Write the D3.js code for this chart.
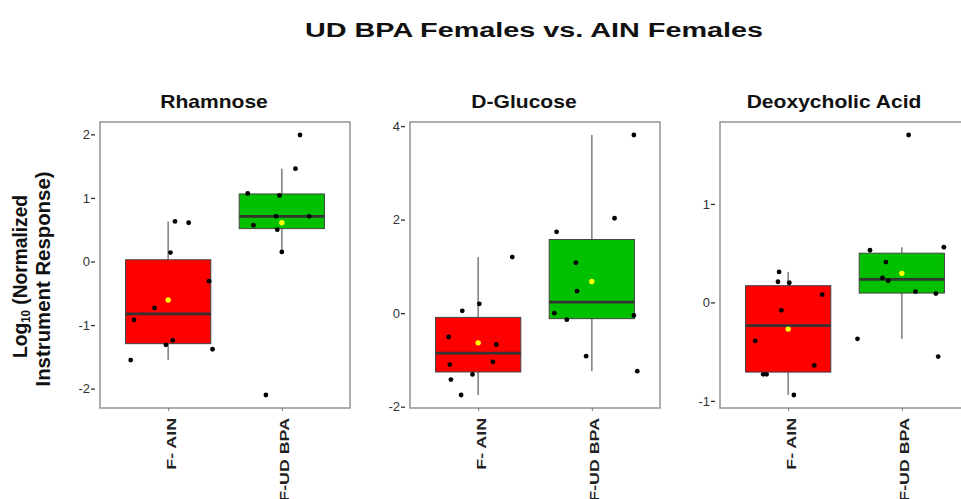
<!DOCTYPE html>
<html>
<head>
<meta charset="utf-8">
<script src="https://cdn.jsdelivr.net/npm/d3@7"></script>
<style>
body { margin: 0; background: #fff; }
svg { display: block; font-family: "Liberation Sans", Arial, sans-serif; }
</style>
</head>
<body>
<svg id="chart" width="961" height="499"></svg>
<script>
const groups = ["F- AIN", "F-UD BPA"]
const panelTitles = ["Rhamnose", "D-Glucose", "Deoxycholic Acid"]
const fills = ["#ff0000", "#00c000"]

// log10 normalized instrument response, one array per box
const rhamnoseAIN = [-1.55, -0.92, -0.73, -1.31, -1.24, 0.14, 0.63, 0.61, -0.31, -1.38]
const rhamnoseBPA = [1.07, 0.57, 1.04, 0.71, 0.50, 0.15, 1.46, 1.99, 0.71, -2.10]
const glucoseAIN = [-0.51, -1.10, -1.42, -1.75, 0.05, -1.31, 0.20, -1.04, -0.67, 1.20]
const glucoseBPA = [0.00, 1.74, -0.14, 1.08, 0.47, -0.92, 2.03, 3.81, -0.05, -1.24]
const deoxyAIN = [-0.39, -0.73, -0.73, 0.21, 0.31, -0.08, 0.20, -0.94, -0.64, 0.08]
const deoxyBPA = [-0.37, 0.53, 0.25, 0.41, 0.22, 1.70, 0.11, 0.09, -0.55, 0.56]

// jitter of each point, in category steps
const rhamnoseAINJit = [-0.33, -0.30, -0.12, -0.02, 0.04, 0.02, 0.06, 0.18, 0.36, 0.39]
const rhamnoseBPAJit = [-0.30, -0.25, -0.02, -0.05, -0.04, 0.00, 0.12, 0.16, 0.24, -0.14]
const glucoseAINJit = [-0.26, -0.25, -0.24, -0.15, -0.14, -0.05, 0.01, 0.13, 0.16, 0.30]
const glucoseBPAJit = [-0.33, -0.31, -0.22, -0.14, -0.13, -0.05, 0.20, 0.37, 0.37, 0.40]
const deoxyAINJit = [-0.29, -0.22, -0.19, -0.09, -0.08, -0.06, 0.01, 0.05, 0.23, 0.30]
const deoxyBPAJit = [-0.39, -0.28, -0.17, -0.14, -0.12, 0.06, 0.12, 0.30, 0.32, 0.37]

const rhamnoseTicks = [-2, -1, 0, 1, 2]
const glucoseTicks = [-2, 0, 2, 4]
const deoxyTicks = [-1, 0, 1]

const panels = [
    {title: panelTitles[0], values: [rhamnoseAIN, rhamnoseBPA], jitter: [rhamnoseAINJit, rhamnoseBPAJit], ticks: rhamnoseTicks},
    {title: panelTitles[1], values: [glucoseAIN, glucoseBPA], jitter: [glucoseAINJit, glucoseBPAJit], ticks: glucoseTicks},
    {title: panelTitles[2], values: [deoxyAIN, deoxyBPA], jitter: [deoxyAINJit, deoxyBPAJit], ticks: deoxyTicks}
]

const svg = d3.select("#chart")
const plotTop = 122
const plotHeight = 286
const plotWidth = 250
const panelLeft = [100, 410, 720]

svg.append("rect").attr("width", 961).attr("height", 499).attr("fill", "#fff")

function boxStats(values) {
    const s = values.slice().sort(d3.ascending)
    const q1 = d3.quantile(s, 0.25)
    const med = d3.quantile(s, 0.5)
    const q3 = d3.quantile(s, 0.75)
    const iqr = q3 - q1
    const lo = d3.min(s.filter(v => v >= q1 - 1.5 * iqr))
    const hi = d3.max(s.filter(v => v <= q3 + 1.5 * iqr))
    return {q1, med, q3, lo, hi, mean: d3.mean(s)}
}

function drawPanel(p, i) {
    const g = svg.append("g")
        .attr("transform", `translate(${panelLeft[i]},${plotTop})`)

    const x = d3.scalePoint().domain(groups).range([0, plotWidth]).padding(0.6)
    const [mn, mx] = d3.extent(p.values.flat())
    const pad = (mx - mn) * 0.05
    const y = d3.scaleLinear().domain([mn - pad, mx + pad]).range([plotHeight, 0])
    const bw = x.step() * 0.75

    groups.forEach((grp, k) => {
        const st = boxStats(p.values[k])
        const cx = x(grp)

        g.append("line")
            .attr("x1", cx).attr("x2", cx)
            .attr("y1", y(st.hi)).attr("y2", y(st.q3))
            .attr("stroke", "#8a8a8a").attr("stroke-width", 1.7)
        g.append("line")
            .attr("x1", cx).attr("x2", cx)
            .attr("y1", y(st.q1)).attr("y2", y(st.lo))
            .attr("stroke", "#8a8a8a").attr("stroke-width", 1.7)

        g.append("rect")
            .attr("x", cx - bw / 2).attr("y", y(st.q3))
            .attr("width", bw).attr("height", y(st.q1) - y(st.q3))
            .attr("fill", fills[k])
            .attr("stroke", "#444").attr("stroke-width", 1)

        g.append("line")
            .attr("x1", cx - bw / 2).attr("x2", cx + bw / 2)
            .attr("y1", y(st.med)).attr("y2", y(st.med))
            .attr("stroke", "#333").attr("stroke-width", 2.8)

        g.selectAll(null)
            .data(p.values[k])
            .join("circle")
            .attr("cx", (d, j) => cx + p.jitter[k][j] * x.step())
            .attr("cy", d => y(d))
            .attr("r", 2.4)
            .attr("fill", "#000")

        g.append("circle")
            .attr("cx", cx).attr("cy", y(st.mean))
            .attr("r", 2.7)
            .attr("fill", "#ffff00")
    })

    g.append("rect")
        .attr("width", plotWidth).attr("height", plotHeight)
        .attr("fill", "none")
        .attr("stroke", "#8c8c8c").attr("stroke-width", 1.4)

    const yAxis = g.append("g")
        .attr("transform", "translate(-5,0)")
        .call(d3.axisLeft(y).tickValues(p.ticks).tickSize(4).tickPadding(1).tickFormat(d => d))
    yAxis.select(".domain").remove()
    yAxis.selectAll("line").attr("stroke", "#333").attr("stroke-width", 1.3)
    yAxis.selectAll("text")
        .attr("font-size", 13)
        .attr("font-family", "Liberation Sans, Arial, sans-serif")
        .attr("fill", "#333")

    const xAxis = g.append("g")
        .attr("transform", `translate(0,${plotHeight})`)
        .call(d3.axisBottom(x).tickSize(3))
    xAxis.select(".domain").remove()
    xAxis.selectAll("line").attr("stroke", "#777")
    xAxis.selectAll("text")
        .attr("x", 0)
        .attr("y", 0)
        .attr("dy", 7)
        .attr("transform", "translate(0,10) rotate(-90) scale(1.37,1)")
        .style("text-anchor", "end")
        .attr("font-size", 13)
        .attr("font-weight", "bold")
        .attr("font-family", "Liberation Sans, Arial, sans-serif")
        .attr("fill", "#222")

    g.append("text")
        .attr("transform", "translate(114,-14) scale(1.17,1)")
        .attr("text-anchor", "middle")
        .attr("font-size", 18)
        .attr("font-weight", "bold")
        .attr("fill", "#111")
        .text(p.title)
}

panels.forEach(drawPanel)

svg.append("text")
    .attr("x", 534).attr("y", 37)
    .attr("text-anchor", "middle")
    .attr("font-size", 20)
    .attr("font-weight", "bold")
    .attr("fill", "#111")
    .attr("textLength", 458)
    .attr("lengthAdjust", "spacingAndGlyphs")
    .text("UD BPA Females  vs. AIN Females")

const yl1 = svg.append("text")
    .attr("transform", "translate(26.5,276.5) rotate(-90)")
    .attr("text-anchor", "middle")
    .attr("font-size", 20)
    .attr("font-weight", "bold")
    .attr("fill", "#111")
    .attr("textLength", 163)
    .attr("lengthAdjust", "spacingAndGlyphs")
yl1.append("tspan").text("Log")
yl1.append("tspan").attr("font-size", 12).attr("dy", 3).text("10")
yl1.append("tspan").attr("dy", -3).text(" (Normalized")

svg.append("text")
    .attr("transform", "translate(50,279) rotate(-90)")
    .attr("text-anchor", "middle")
    .attr("font-size", 20)
    .attr("font-weight", "bold")
    .attr("fill", "#111")
    .attr("textLength", 215)
    .attr("lengthAdjust", "spacingAndGlyphs")
    .text("Instrument Response)")
</script>
</body>
</html>
